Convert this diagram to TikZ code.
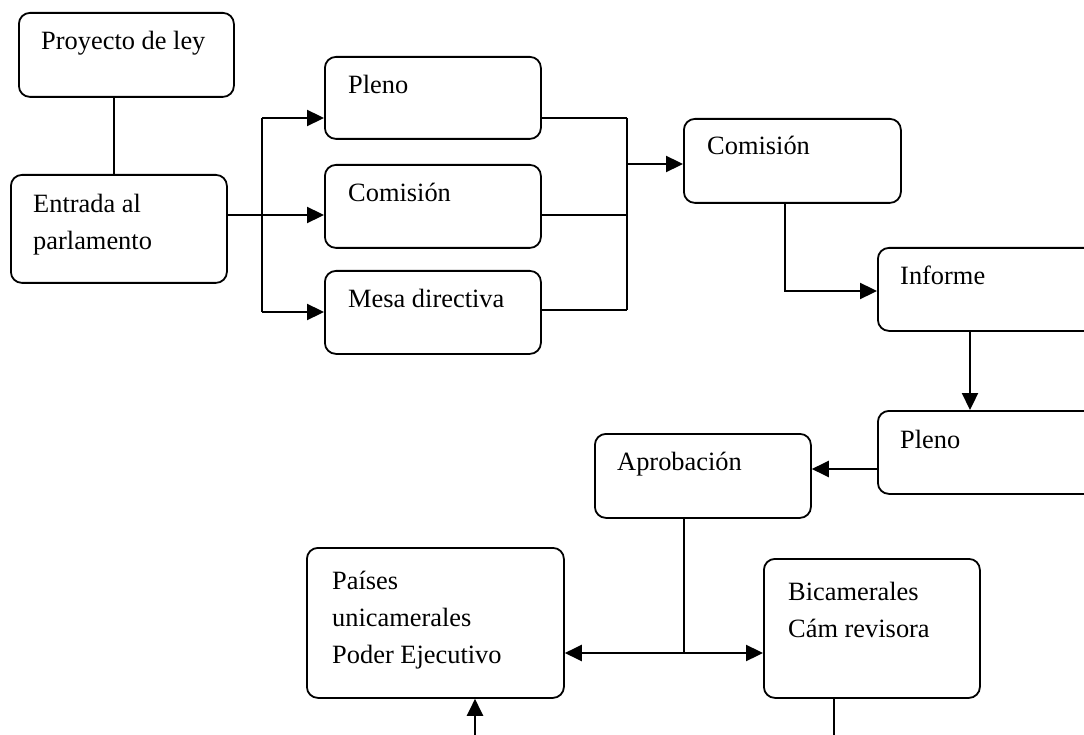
\documentclass[tikz,border=0pt]{standalone}
\usepackage{fontspec}
\setmainfont{Liberation Serif}
\usetikzlibrary{arrows.meta}
\begin{document}
\begin{tikzpicture}[x=1pt,y=-1pt,
  box/.style={draw, line width=1.8pt, rounded corners=11pt, inner sep=0pt, anchor=north west},
  txt/.style={anchor=base west, inner sep=0pt, align=left, font=\fontsize{26.4}{37}\selectfont},
  ln/.style={line width=1.7pt},
  arr/.style={line width=2.3pt, -{Triangle[length=17pt,width=16pt]}},
  darr/.style={line width=2.3pt, {Triangle[length=17pt,width=16pt]}-{Triangle[length=17pt,width=16pt]}}]
\useasboundingbox (0,0) rectangle (1084,735);
\clip (0,0) rectangle (1084,735);
% boxes
\node[box, minimum width=215pt, minimum height=84pt] (proy) at (18,12) {};
\node[box, minimum width=216pt, minimum height=108pt] (entr) at (10,174) {};
\node[box, minimum width=216pt, minimum height=82pt] (ple1) at (324,56) {};
\node[box, minimum width=216pt, minimum height=83pt] (com1) at (324,164) {};
\node[box, minimum width=216pt, minimum height=83pt] (mesa) at (324,270) {};
\node[box, minimum width=217pt, minimum height=84pt] (com2) at (683,118) {};
\node[box, minimum width=240pt, minimum height=83pt] (info) at (877,247) {};
\node[box, minimum width=240pt, minimum height=83pt] (ple2) at (877,410) {};
\node[box, minimum width=216pt, minimum height=84pt] (apro) at (594,433) {};
\node[box, minimum width=257pt, minimum height=150pt] (pais) at (306,547) {};
\node[box, minimum width=216pt, minimum height=139pt] (bica) at (763,558) {};
% texts (base = baseline of the last line)
\node[txt] (tproy) at (41,50) {Proyecto de ley};
\node[txt] (tentr) at (33,250) {Entrada al\\parlamento};
\node[txt] (tple1) at (348,94) {Pleno};
\node[txt] (tcom1) at (348,202) {Comisión};
\node[txt] (tmesa) at (348,308) {Mesa directiva};
\node[txt] (tcom2) at (707,155) {Comisión};
\node[txt] (tinfo) at (900,285) {Informe};
\node[txt] (tple2) at (900,448) {Pleno};
\node[txt] (tapro) at (617,470) {Aprobación};
\node[txt] (tpais) at (332,663) {Países\\unicamerales\\Poder Ejecutivo};
\node[txt] (tbica) at (788,637) {Bicamerales\\Cám revisora};
% connectors
\draw[ln] (114,0 |- proy.south) -- (114,0 |- entr.north);
\coordinate (bl1) at (262,118);
\coordinate (bl2) at (262,312);
\draw[ln] (entr.east |- 0,215) -- (bl1 |- 0,215);
\draw[arr] (bl1 |- 0,215) -- (com1.west |- 0,215);
\draw[arr] (bl1) -- (ple1.west |- bl1);
\draw[arr] (bl2) -- (mesa.west |- bl2);
\draw[ln] (bl1) -- (bl2);
\coordinate (br1) at (627,118);
\coordinate (br2) at (627,310);
\draw[ln] (ple1.east |- br1) -- (br1);
\draw[ln] (com1.east |- 0,215) -- (br1 |- 0,215);
\draw[ln] (mesa.east |- br2) -- (br2);
\draw[ln] (br1) -- (br2);
\draw[arr] (627,164) -- (com2.west |- 0,164);
\draw[arr] (785,0 |- com2.south) -- (785,291) -- (info.west |- 0,291);
\draw[arr] (970,0 |- info.south) -- (970,0 |- ple2.north);
\draw[arr] (ple2.west |- 0,469) -- (apro.east |- 0,469);
\coordinate (junc) at (684,653);
\draw[ln] (junc |- apro.south) -- (junc);
\draw[darr] (pais.east |- junc) -- (bica.west |- junc);
\coordinate (inbot) at (475,740);
\draw[arr] (inbot) -- (inbot |- pais.south);
\coordinate (outbot) at (834,740);
\draw[ln] (outbot |- bica.south) -- (outbot);
\end{tikzpicture}
\end{document}
